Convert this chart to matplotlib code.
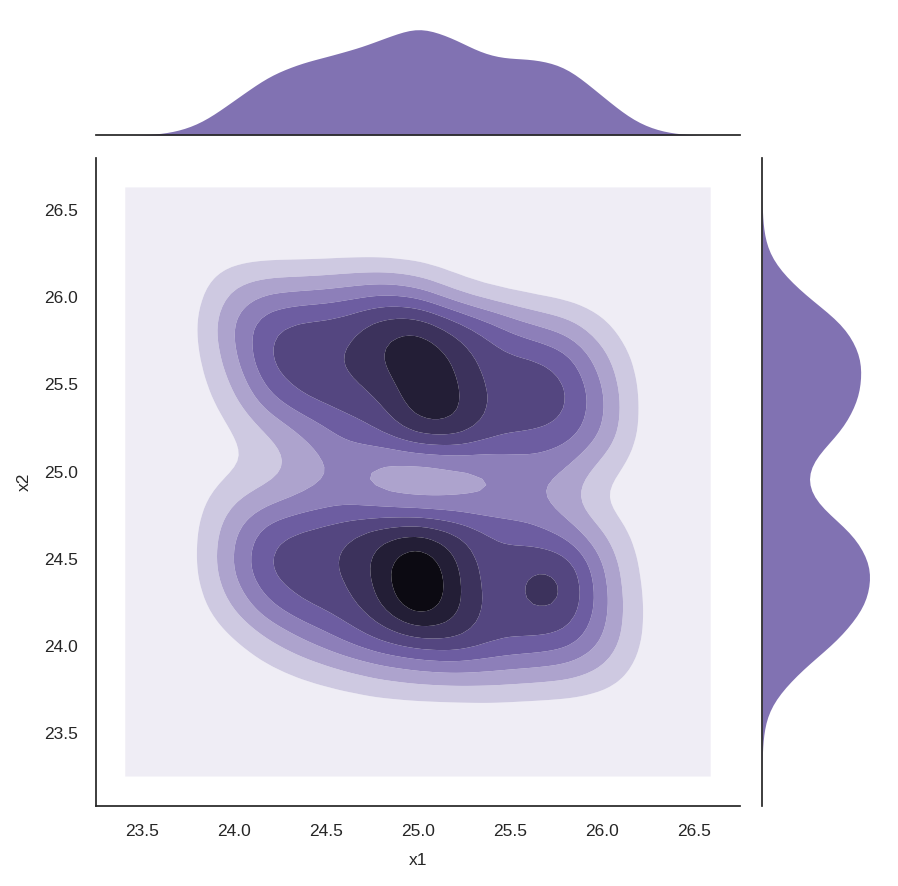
import colorsys
import numpy as np
import matplotlib
matplotlib.use("Agg")
from matplotlib import pyplot as plt
from matplotlib.colors import LinearSegmentedColormap, to_rgb

# binned sample counts: bin centres and counts
x1_centres = [23.8, 24.0, 24.2, 24.4, 24.6, 24.8, 25.0, 25.2, 25.4, 25.6, 25.8, 26.0, 26.2]
x2_centres = [26.24, 26.04, 25.84, 25.64, 25.44, 25.24, 25.04,
              24.84, 24.64, 24.44, 24.24, 24.04, 23.84, 23.64]
counts = [
    [0.3, 0.4, 0.4, 0.4, 0.4, 0.35, 0.2, 0.1, 0.0, 0.0, 0.0, 0.0, 0.0],
    [0.5, 2.4, 3.0, 3.0, 3.4, 3.8,  3.2, 1.4, 0.6, 0.4, 0.2, 0.0, 0.0],
    [0.7, 3.5, 5.3, 5.8, 5.8, 7.2,  7.6, 6.0, 4.8, 3.2, 2.6, 1.2, 0.0],
    [0.6, 2.7, 5.8, 6.2, 6.0, 7.4,  8.6, 7.2, 5.5, 5.6, 5.0, 2.5, 0.5],
    [0.4, 1.8, 4.4, 5.6, 6.0, 6.0,  8.4, 7.8, 5.6, 6.2, 5.8, 3.4, 0.6],
    [0.1, 0.9, 2.1, 3.3, 4.5, 5.4,  7.6, 7.8, 5.8, 5.4, 5.2, 3.4, 0.6],
    [0.1, 0.7, 1.3, 2.4, 3.4, 2.4,  2.0, 2.4, 3.0, 3.6, 3.2, 1.6, 0.5],
    [0.6, 2.0, 2.6, 3.2, 3.5, 2.7,  2.2, 2.4, 2.8, 3.2, 2.4, 0.6, 0.1],
    [0.7, 3.1, 5.3, 5.7, 6.3, 7.4,  8.0, 6.8, 5.2, 4.6, 3.8, 2.2, 0.5],
    [0.7, 3.3, 5.8, 6.0, 6.0, 7.8, 10.5, 7.4, 5.2, 6.55, 6.85, 3.2, 0.7],
    [0.5, 2.2, 4.3, 5.5, 5.8, 7.2, 10.3, 7.8, 5.2, 6.55, 6.85, 3.5, 0.9],
    [0.1, 0.8, 2.0, 3.2, 4.5, 5.6,  6.2, 6.8, 5.7, 5.3, 5.1, 3.3, 0.9],
    [0.0, 0.1, 0.6, 1.1, 1.6, 2.2,  2.6, 2.8, 2.8, 2.6, 2.4, 1.8, 0.6],
    [0.0, 0.0, 0.0, 0.1, 0.2, 0.3,  0.3, 0.3, 0.4, 0.3, 0.3, 0.2, 0.1],
]

bw = 0.13
base_color = "#8172B2"

cx = np.array(x1_centres)
cy = np.array(x2_centres)
w = np.array(counts, dtype=float)
px, py = np.meshgrid(cx, cy)
px, py, w = px.ravel(), py.ravel(), w.ravel()

# bivariate kde on a 100x100 grid, cut = 3 bandwidths
gx = np.linspace(cx.min() - 3 * bw, cx.max() + 3 * bw, 100)
gy = np.linspace(cy.min() - 3 * bw, cy.max() + 3 * bw, 100)
xx, yy = np.meshgrid(gx, gy)
z = np.zeros_like(xx)
for xi, yi, wi in zip(px, py, w):
    z += wi * np.exp(-0.5 * ((xx - xi) / bw) ** 2 - 0.5 * ((yy - yi) / bw) ** 2)
z /= w.sum() * 2 * np.pi * bw * bw

# marginals
dx = np.zeros_like(gx)
for xi, wi in zip(px, w):
    dx += wi * np.exp(-0.5 * ((gx - xi) / bw) ** 2)
dy = np.zeros_like(gy)
for yi, wi in zip(py, w):
    dy += wi * np.exp(-0.5 * ((gy - yi) / bw) ** 2)

# colormap: base hue/saturation, lightness from 1 down to 0
h_, l_, s_ = colorsys.rgb_to_hls(*to_rgb(base_color))
cols = [colorsys.hls_to_rgb(h_, l, s_) for l in np.linspace(1, 0, 12)]
cmap = LinearSegmentedColormap.from_list("blend", cols)
levels = np.linspace(0, z.max() * 1.02, 10)
band_colors = [cmap((i + 0.5) / 9) for i in range(9)]

plt.rcParams['font.family'] = ['Liberation Sans', 'DejaVu Sans']
fig = plt.figure(figsize=(8.98, 8.86), dpi=100)
ax = fig.add_axes([0.1069, 0.0903, 0.7171, 0.7314])
ax_top = fig.add_axes([0.1069, 0.8476, 0.7171, 0.1524], sharex=ax)
ax_right = fig.add_axes([0.8486, 0.0903, 0.1514, 0.7314], sharey=ax)

ax.contourf(xx, yy, z, levels=levels, colors=band_colors, antialiased=True)

ax_top.fill_between(gx, 0, dx, color=base_color, lw=0)
ax_top.set_ylim(0, dx.max() / 0.78)
ax_right.fill_betweenx(gy, 0, dy, color=base_color, lw=0)
ax_right.set_xlim(0, dy.max() / 0.79)

pad_x = 0.05 * (gx[-1] - gx[0])
pad_y = 0.05 * (gy[-1] - gy[0])
ax.set_xlim(gx[0] - pad_x, gx[-1] + pad_x)
ax.set_ylim(gy[0] - pad_y, gy[-1] + pad_y)

ax.set_xticks([23.5, 24.0, 24.5, 25.0, 25.5, 26.0, 26.5])
ax.set_yticks([23.5, 24.0, 24.5, 25.0, 25.5, 26.0, 26.5])
ax.set_xlabel("x1", fontsize=12.5, color="#262626", labelpad=10)
ax.set_ylabel("x2", fontsize=12.5, color="#262626", labelpad=9)
ax.tick_params(length=0, labelsize=12.5, labelcolor="#262626", pad=13)
for s in ["top", "right"]:
    ax.spines[s].set_visible(False)
for s in ["left", "bottom"]:
    ax.spines[s].set_color("#262626")
    ax.spines[s].set_linewidth(1.25)

for a, keep in [(ax_top, "bottom"), (ax_right, "left")]:
    for s in ["top", "right", "left", "bottom"]:
        a.spines[s].set_visible(s == keep)
    a.spines[keep].set_color("#262626")
    a.spines[keep].set_linewidth(1.25)
    a.tick_params(length=0, labelbottom=False, labelleft=False)
ax_top.set_yticks([])
ax_right.set_xticks([])

fig.savefig("out.png", dpi=100)
